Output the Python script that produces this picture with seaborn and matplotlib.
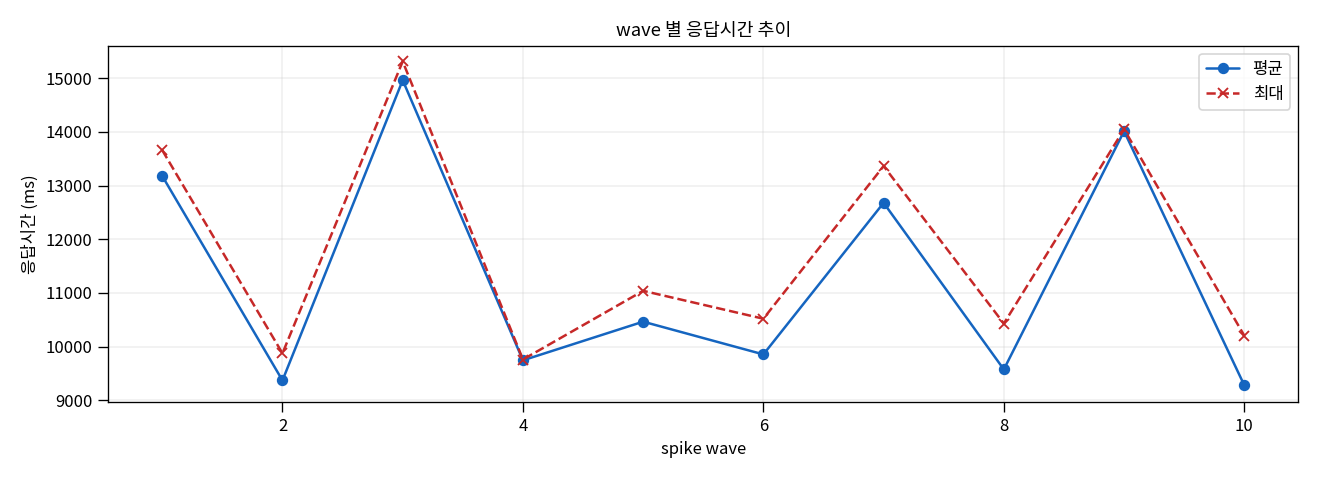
import seaborn as sns
import matplotlib
matplotlib.use('Agg')
import matplotlib.pyplot as plt
import pandas as pd

waves = [1, 2, 3, 4, 5, 6, 7, 8, 9, 10]
avg_ms = [13180, 9370, 14965, 9745, 10465, 9855, 12680, 9575, 14015, 9280]
max_ms = [13660, 9875, 15315, 9760, 11040, 10520, 13365, 10430, 14050, 10205]

sns.set_theme(style='ticks', rc={'axes.linewidth': 0.8, 'xtick.major.width': 0.8,
                                 'ytick.major.width': 0.8, 'text.color': 'black',
                                 'axes.labelcolor': 'black', 'xtick.color': 'black',
                                 'ytick.color': 'black', 'axes.edgecolor': 'black'})
plt.rcParams['font.family'] = ['Noto Sans CJK KR', 'DejaVu Sans']
plt.rcParams['axes.unicode_minus'] = False

df = pd.DataFrame({'wave': waves, '평균': avg_ms, '최대': max_ms})

fig, ax = plt.subplots(figsize=(11, 4), dpi=120)

sns.lineplot(data=df, x='wave', y='평균', ax=ax, color='#1565C0', marker='o',
             markersize=6, markeredgecolor='#1565C0', markeredgewidth=0.8,
             linewidth=1.5, label='평균')
sns.lineplot(data=df, x='wave', y='최대', ax=ax, color='#C62828', marker='x',
             markersize=6, markeredgecolor='#C62828', markeredgewidth=1.1,
             linewidth=1.5, dashes=(3.7, 1.6), label='최대')

ax.set_title('wave 별 응답시간 추이', fontsize=11)
ax.set_xlabel('spike wave', fontsize=10)
ax.set_ylabel('응답시간 (ms)', fontsize=10)
ax.set_ylim(8970, 15610)
ax.set_yticks(range(9000, 15001, 1000))
ax.grid(True, alpha=0.3)
ax.tick_params(labelsize=10)
ax.legend(loc='upper right', fontsize=10, fancybox=True)

plt.tight_layout()
plt.savefig('out.png', dpi=120)
plt.close()
